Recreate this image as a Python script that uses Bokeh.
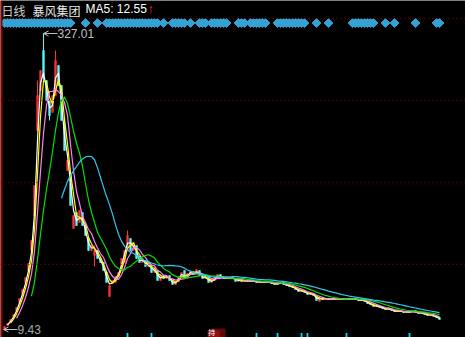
import numpy as np
from bokeh.plotting import figure
from bokeh.models import Range1d, Span, Label, Arrow, OpenHead, ColumnDataSource
from bokeh.embed import file_html
from bokeh.resources import INLINE

# ---------------- data ----------------
title_period = "日线"
stock_name = "暴风集团"
ma5_text = "MA5: 12.55"

open_ = [10.5, 13.7, 18.0, 23.4, 29.8, 38.4, 48.0, 59.9, 72.7, 94.2,
         131.7, 222.9, 265.9, 308.8, 276.6, 255.1, 242.3, 260.5, 292.7, 271.2,
         228.3, 180.0, 174.7, 117.8, 135.0, 124.2, 135.0, 121.0, 107.1, 94.2,
         88.8, 94.2, 85.6, 81.3, 70.6, 44.8, 58.8, 59.9, 66.3, 72.7,
         81.3, 94.2, 107.1, 94.2, 99.6, 87.7, 81.3, 83.5, 77.0, 78.1,
         70.6, 72.7, 62.0, 67.4, 64.1, 67.4, 62.0, 57.7, 60.9, 66.3,
         72.7, 64.1, 69.5, 71.7, 68.4, 72.7, 67.4, 64.1, 65.2, 59.9,
         62.0, 65.2, 68.4, 65.2, 64.1, 65.2, 64.1, 64.1, 60.9, 63.1,
         60.9, 62.0, 60.9, 62.0, 60.9, 59.9, 60.9, 59.9, 60.9, 59.9,
         58.8, 57.7, 58.8, 59.9, 57.7, 56.6, 55.6, 54.5, 52.3, 50.2,
         51.3, 49.1, 47.0, 48.1, 45.9, 39.5, 43.8, 41.6, 42.7, 41.6,
         42.7, 41.6, 42.7, 41.6, 42.2, 42.7, 41.6, 42.7, 41.6, 40.5,
         41.6, 39.5, 37.3, 36.2, 34.1, 35.1, 33.0, 31.9, 30.9, 31.9,
         29.8, 28.7, 29.8, 28.7, 27.7, 28.7, 27.7, 29.8, 27.7, 26.6,
         27.7, 25.5, 24.5, 25.5, 23.4, 22.3]

close = [12.6, 15.9, 20.2, 25.5, 33.0, 42.7, 52.3, 65.2, 80.2, 104.9,
         163.9, 260.5, 287.3, 281.9, 255.1, 239.0, 260.5, 298.0, 271.2, 233.7,
         201.5, 190.8, 142.5, 131.7, 121.0, 137.1, 121.0, 110.3, 94.2, 99.6,
         94.2, 85.6, 81.3, 72.7, 59.9, 56.6, 62.0, 66.3, 70.6, 85.6,
         94.2, 110.3, 94.2, 102.8, 85.6, 81.3, 85.6, 77.0, 80.2, 70.6,
         74.9, 62.0, 67.4, 64.1, 67.4, 62.0, 57.7, 60.9, 66.3, 70.6,
         64.1, 69.5, 71.7, 68.4, 73.8, 67.4, 64.1, 66.3, 59.9, 62.0,
         65.2, 68.4, 65.2, 64.1, 65.2, 64.1, 65.2, 60.9, 63.1, 60.9,
         62.0, 60.9, 62.0, 60.9, 59.9, 60.9, 59.9, 60.9, 59.9, 58.8,
         57.7, 58.8, 59.9, 57.7, 56.6, 55.6, 54.5, 52.3, 50.2, 51.3,
         49.1, 47.0, 48.1, 45.9, 40.5, 43.8, 41.6, 42.7, 41.6, 42.7,
         41.6, 42.7, 41.6, 42.7, 42.7, 41.6, 42.7, 41.6, 40.5, 41.6,
         39.5, 37.3, 36.2, 34.1, 35.1, 33.0, 31.9, 30.9, 31.9, 29.8,
         28.7, 29.8, 28.7, 27.7, 28.7, 27.7, 29.8, 27.7, 26.6, 27.7,
         25.5, 24.5, 25.5, 23.4, 22.3, 20.2]

# wick extremes beyond the candle bodies (bar index -> price)
wick_high = {11: 276.6, 13: 327.01, 17: 308.8, 20: 235.0, 41: 115.6, 30: 99.6}
wick_low = {0: 9.43, 15: 233.7, 30: 77.0, 13: 276.6}

ma_periods = [2, 3, 5, 10, 20]
ma_colors = ["#ffffff", "#ffff00", "#ff80ff", "#00e000", "#30c8f0"]

event_bars = (list(range(0, 23)) + [27, 31] + list(range(34, 52)) + [53]
              + list(range(56, 61)) + [62, 65, 66, 67] + list(range(69, 75))
              + [78, 79, 80] + list(range(82, 88)) + list(range(91, 101))
              + [104, 108] + list(range(116, 124)) + [127, 130, 137, 144, 145])
signal_bars = [41, 49, 84, 91, 99, 101, 114, 135]
hold_bar = 71
grid_levels = [79.2, 167.1, 255.1, 343.1]

# ---------------- figure ----------------
W, H = 465, 337
Y0, Y1 = 0.85, 362.4
X0, X1 = -4 / 3, 461 / 3
upx = (Y1 - Y0) / H
xpx = (X1 - X0) / W

p = figure(width=W, height=H, x_range=Range1d(X0, X1), y_range=Range1d(Y0, Y1),
           output_backend="svg", toolbar_location=None, min_border=0,
           x_axis_location=None, y_axis_location=None,
           background_fill_color="black", border_fill_color="black",
           outline_line_color=None)
p.grid.visible = False

for g in grid_levels:
    p.add_layout(Span(location=g, dimension="width", line_color="#8c0000",
                      line_dash="1 3", line_width=1))
p.add_layout(Span(location=X0 + 1.0 * xpx, dimension="height",
                  line_color="#8c0000", line_width=2))

n = len(close)
o = np.array(open_, dtype=float)
c = np.array(close, dtype=float)
assert len(o) == n
x = np.arange(n)
hi = np.maximum(o, c)
lo = np.minimum(o, c)
for k, v in wick_high.items():
    hi[k] = max(hi[k], v)
for k, v in wick_low.items():
    lo[k] = min(lo[k], v)
up = c >= o
colors = np.where(up, "#ff3232", "#54fcfc")

src = ColumnDataSource(dict(x=x, top=np.maximum(o, c), bottom=np.minimum(o, c),
                            hi=hi, lo=lo, color=colors))
p.segment(x0="x", x1="x", y0="lo", y1="hi", color="color", line_width=1, source=src)
p.vbar(x="x", width=0.6, top="top", bottom="bottom", fill_color="color",
       line_color="color", line_width=0.5, source=src)

def moving_average(arr, k):
    out = np.full(len(arr), np.nan)
    for j in range(k - 1, len(arr)):
        out[j] = arr[j - k + 1:j + 1].mean()
    return out

for per, col in zip(ma_periods, ma_colors):
    p.line(x, moving_average(c, per), line_color=col, line_width=1.2)

# event diamonds row
dy = Y1 - 22.5 * upx
p.scatter(event_bars, [dy] * len(event_bars), marker="square", angle=np.pi / 4,
          size=6.2, fill_color="#33a3d6", line_color="#33a3d6")

# bottom signal ticks
p.vbar(x=signal_bars, width=0.6, bottom=Y0 - 2 * upx, top=Y0 + 4.5 * upx,
       fill_color="#00e0f0", line_color=None)

# hold marker box at bottom
p.quad(left=[hold_bar - 2.3], right=[hold_bar + 2.7], bottom=[Y0 - 3 * upx],
       top=[Y0 + 9 * upx], fill_color="#5e0a0a", line_color=None)
p.quad(left=[hold_bar - 3.3], right=[hold_bar + 0.7], bottom=[Y0 - 3 * upx],
       top=[Y0 + 7 * upx], fill_color="#8a1212", line_color=None)
p.add_layout(Label(x=hold_bar - 3.1, y=Y0 + 0.5 * upx, text="持", text_color="white",
                   text_font="Noto Sans CJK SC", text_font_size="7px",
                   text_baseline="bottom"))

# max / min labels
imax = int(np.argmax(hi))
imin = int(np.argmin(lo))
lab_col = "#c0c0c0"
p.add_layout(Arrow(x_start=imax + 14 * xpx, y_start=hi[imax], x_end=imax, y_end=hi[imax],
                   line_color=lab_col, line_width=1,
                   end=OpenHead(size=5, line_color=lab_col, line_width=1)))
p.add_layout(Label(x=imax + 14 * xpx, y=hi[imax], text=f"{hi[imax]:.2f}", text_color=lab_col,
                   text_font="Liberation Sans", text_font_size="12px",
                   text_baseline="middle"))
p.add_layout(Arrow(x_start=imin + 13 * xpx, y_start=lo[imin], x_end=imin - 1 * xpx, y_end=lo[imin],
                   line_color=lab_col, line_width=1,
                   end=OpenHead(size=5, line_color=lab_col, line_width=1)))
p.add_layout(Label(x=imin + 13 * xpx, y=lo[imin], text=f"{lo[imin]:.2f}", text_color="#a8a8a8",
                   text_font="Liberation Sans", text_font_size="12px",
                   text_baseline="middle"))

# header
p.add_layout(Label(x=1, y=H - 1, x_units="screen", y_units="screen", text=title_period,
                   text_color="#d0d0d0", text_font="Noto Sans CJK SC", text_font_size="12px",
                   text_baseline="top"))
p.add_layout(Label(x=32, y=H - 1, x_units="screen", y_units="screen", text=stock_name,
                   text_color="#e8e8e8", text_font="Noto Sans CJK SC", text_font_size="12px",
                   text_baseline="top"))
p.add_layout(Label(x=85, y=H - 1, x_units="screen", y_units="screen", text=ma5_text,
                   text_color="#ffffff", text_font="Liberation Sans", text_font_size="12px",
                   text_baseline="top"))
p.add_layout(Label(x=147, y=H, x_units="screen", y_units="screen", text="↑",
                   text_color="#ff3232", text_font="Liberation Sans", text_font_size="13px",
                   text_font_style="bold", text_baseline="top"))

open("out.html", "w").write(file_html(p, INLINE))
